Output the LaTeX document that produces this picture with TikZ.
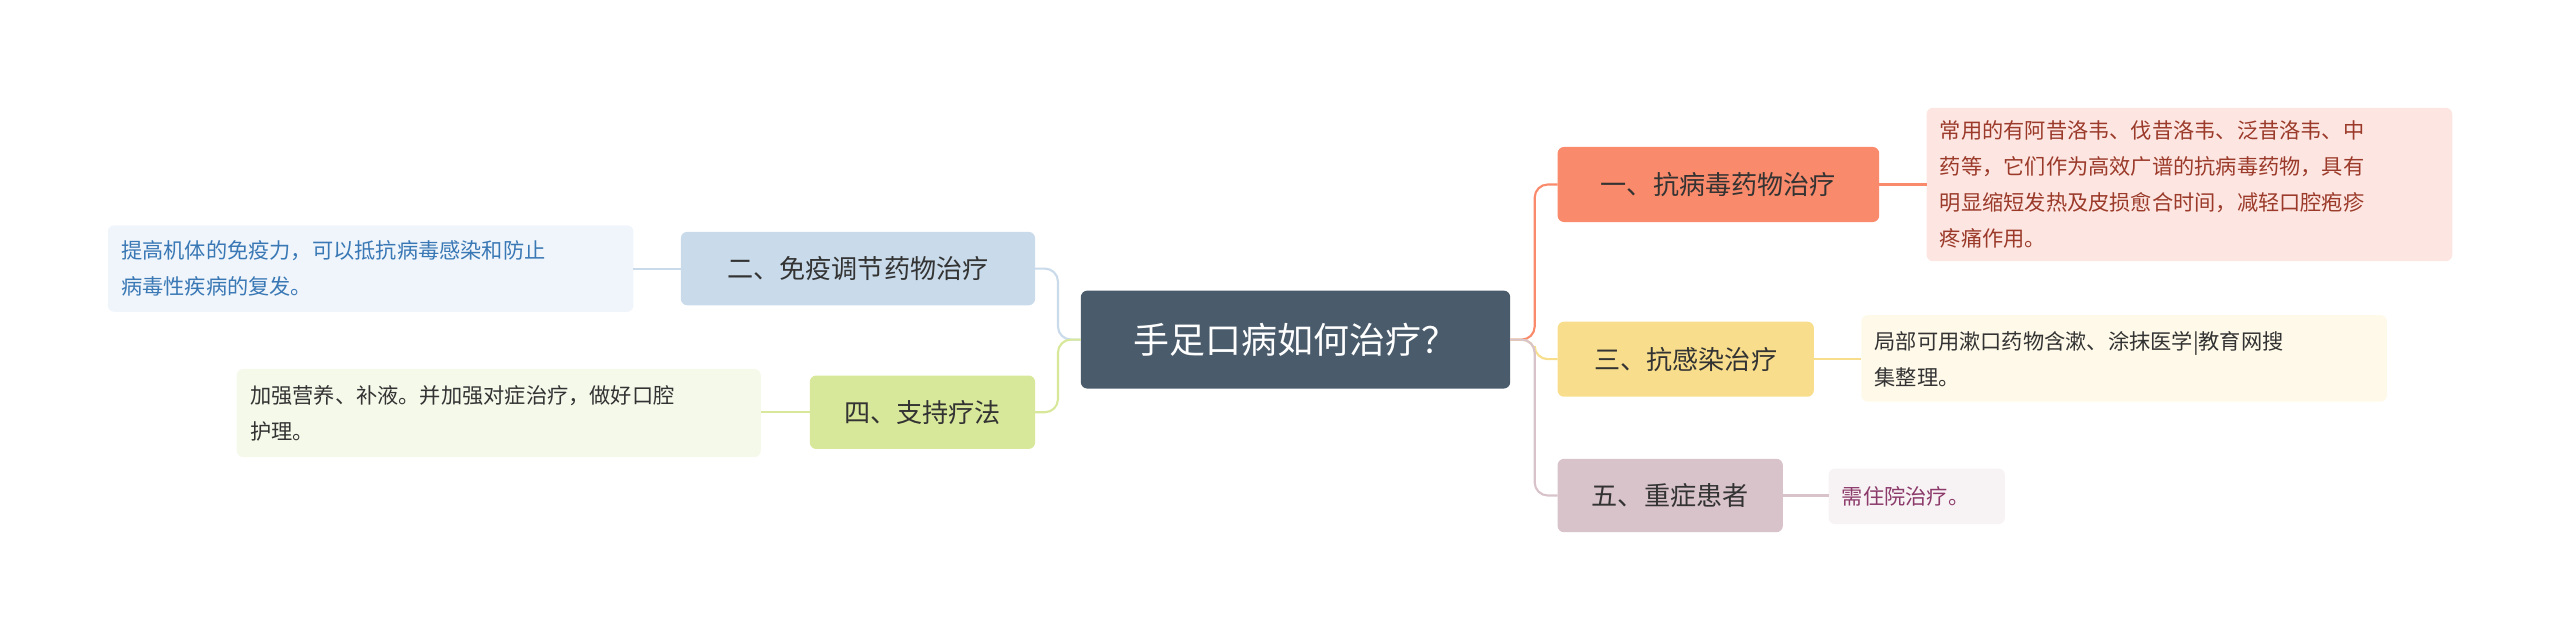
\documentclass[tikz,border=0pt]{standalone}
\usepackage{fontspec}
\setmainfont{Noto Sans CJK SC}
\begin{document}
\begin{tikzpicture}[x=1pt,y=-1pt,
  box/.style={rounded corners=4pt,inner sep=0pt,anchor=north west},
  br/.style={box,font=\fontsize{16}{20}\selectfont,text=black!80},
  leaf/.style={font=\fontsize{13}{22}\selectfont,align=left,anchor=west,inner sep=0pt},
  con/.style={line width=1.3pt,rounded corners=8pt}]
\useasboundingbox (0,0) rectangle (1568,393);
\definecolor{cc}{HTML}{4A5B6B}
\definecolor{c1}{HTML}{F98A6B}\definecolor{l1}{HTML}{FDE6E1}\definecolor{t1}{HTML}{9B3A2A}
\definecolor{c3}{HTML}{F8DE8C}\definecolor{l3}{HTML}{FEF9E8}
\definecolor{c5}{HTML}{D8C3CB}\definecolor{l5}{HTML}{F7F2F4}\definecolor{t5}{HTML}{8B3A6A}
\definecolor{c2}{HTML}{C9DBEA}\definecolor{l2}{HTML}{EFF5FB}\definecolor{t2}{HTML}{3A78B5}
\definecolor{c4}{HTML}{D7E89A}\definecolor{l4}{HTML}{F5F9EA}
% boxes
\fill[cc,rounded corners=4pt] (662,178) rectangle (925,238);
\node[text=white,font=\fontsize{22}{26}\selectfont] (c) at (793.5,208) {手足口病如何治疗？};
\coordinate (cE) at (925,208); \coordinate (cW) at (662,208);
\fill[c1,rounded corners=4pt] (954,90) rectangle (1151,136);
\node[font=\fontsize{16}{20}\selectfont,text=black!80] (b1) at (1052.5,113) {一、抗病毒药物治疗};
\fill[c3,rounded corners=4pt] (954,197) rectangle (1111,243);
\node[font=\fontsize{16}{20}\selectfont,text=black!80] (b3) at (1032.5,220) {三、抗感染治疗};
\fill[c5,rounded corners=4pt] (954,281) rectangle (1092,326);
\node[font=\fontsize{16}{20}\selectfont,text=black!80] (b5) at (1023,303.5) {五、重症患者};
\fill[c2,rounded corners=4pt] (417,142) rectangle (634,187);
\node[font=\fontsize{16}{20}\selectfont,text=black!80] (b2) at (525.5,164.5) {二、免疫调节药物治疗};
\fill[c4,rounded corners=4pt] (496,230) rectangle (634,275);
\node[font=\fontsize{16}{20}\selectfont,text=black!80] (b4) at (565,252.5) {四、支持疗法};
\fill[l1,rounded corners=4pt] (1180,66) rectangle (1502,160);
\node[leaf,text=t1] (f1) at (1188,113) {常用的有阿昔洛韦、伐昔洛韦、泛昔洛韦、中\\药等，它们作为高效广谱的抗病毒药物，具有\\明显缩短发热及皮损愈合时间，减轻口腔疱疹\\疼痛作用。};
\fill[l3,rounded corners=4pt] (1140,193) rectangle (1462,246);
\node[leaf,text=black!80] (f3) at (1148,220) {局部可用漱口药物含漱、涂抹医学|教育网搜\\集整理。};
\fill[l5,rounded corners=4pt] (1120,287) rectangle (1228,321);
\node[leaf,text=t5] (f5) at (1128,304) {需住院治疗。};
\fill[l2,rounded corners=4pt] (66,138) rectangle (388,191);
\node[leaf,text=t2] (f2) at (74,164.5) {提高机体的免疫力，可以抵抗病毒感染和防止\\病毒性疾病的复发。};
\fill[l4,rounded corners=4pt] (145,226) rectangle (466,280);
\node[leaf,text=black!80] (f4) at (153,253) {加强营养、补液。并加强对症治疗，做好口腔\\护理。};
% connectors
\draw[con,c1] (cE) -- (940,208) |- (954,113);
\draw[con,c3] (cE) -- (940,208) |- (954,220);
\draw[con,c5] (cE) -- (940,208) |- (954,303.5);
\draw[con,c2] (cW) -- (648,208) |- (634,164.5);
\draw[con,c4] (cW) -- (648,208) |- (634,252.5);
\draw[line width=1.3pt,c1] (1151,113) -- (1180,113);
\draw[line width=1.3pt,c3] (1111,220) -- (1140,220);
\draw[line width=1.3pt,c5] (1092,303.5) -- (1120,303.5);
\draw[line width=1.3pt,c2] (417,164.5) -- (388,164.5);
\draw[line width=1.3pt,c4] (496,252.5) -- (466,252.5);
\end{tikzpicture}
\end{document}
